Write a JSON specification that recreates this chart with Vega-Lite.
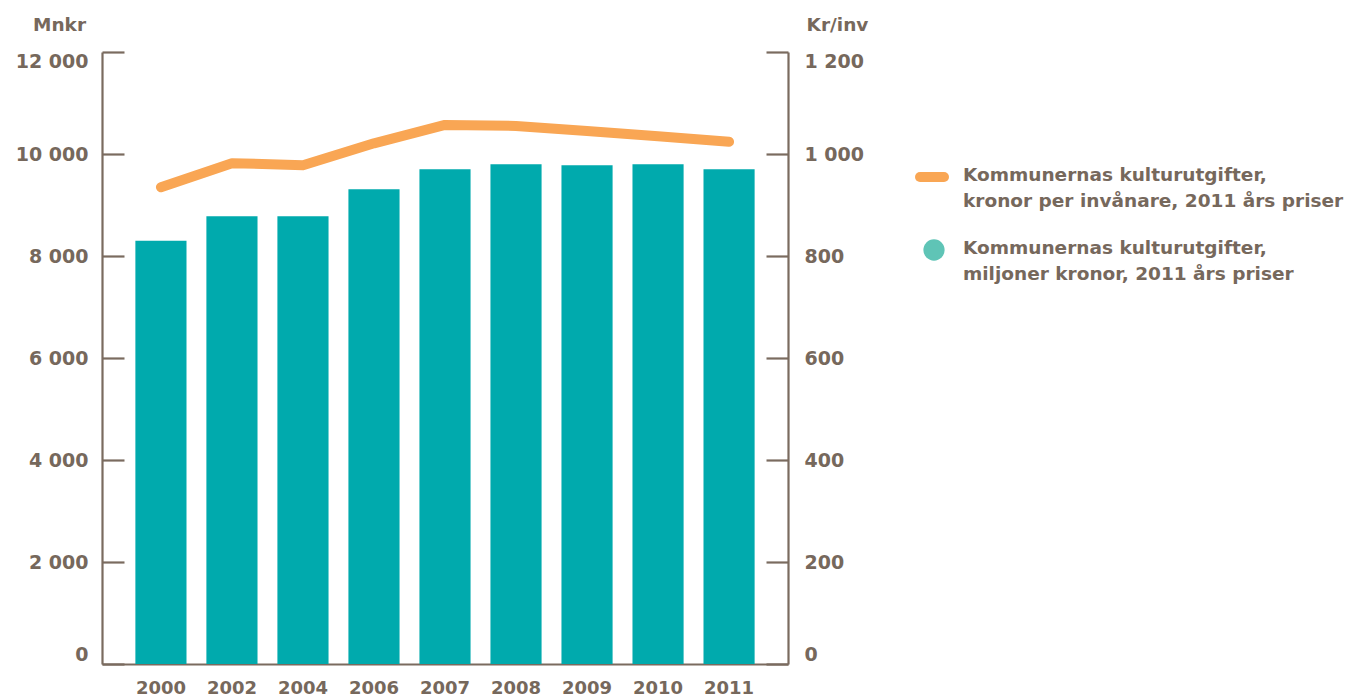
{
  "$schema": "https://vega.github.io/schema/vega-lite/v6.json",
  "width": 686,
  "height": 612,
  "autosize": "none",
  "padding": {"left": 102, "top": 52, "right": 560, "bottom": 34},
  "background": "white",
  "config": {
    "view": {"stroke": null},
    "font": "DejaVu Sans",
    "axis": {
      "labelFont": "DejaVu Sans",
      "labelFontWeight": "bold",
      "labelFontSize": 18,
      "labelColor": "#76685c",
      "titleFont": "DejaVu Sans",
      "titleFontWeight": "bold",
      "titleFontSize": 18.5,
      "titleColor": "#76685c",
      "domainColor": "#7a6b5f",
      "domainWidth": 2.2,
      "tickColor": "#7a6b5f",
      "tickWidth": 2.2,
      "grid": false
    },
    "legend": {
      "labelFont": "DejaVu Sans",
      "labelFontWeight": "bold",
      "labelFontSize": 18.5,
      "labelColor": "#76685c",
      "labelLimit": 1000
    }
  },
  "data": {
    "values": [
      {"year": "2000", "mnkr": 8300, "krinv": 935},
      {"year": "2002", "mnkr": 8780, "krinv": 982},
      {"year": "2004", "mnkr": 8780, "krinv": 978},
      {"year": "2006", "mnkr": 9310, "krinv": 1021},
      {"year": "2007", "mnkr": 9700, "krinv": 1057},
      {"year": "2008", "mnkr": 9800, "krinv": 1055},
      {"year": "2009", "mnkr": 9780, "krinv": 1045},
      {"year": "2010", "mnkr": 9800, "krinv": 1035},
      {"year": "2011", "mnkr": 9700, "krinv": 1024}
    ]
  },
  "encoding": {
    "x": {
      "field": "year",
      "type": "ordinal",
      "scale": {"paddingInner": 0.28, "paddingOuter": 0.47},
      "axis": {"title": null, "ticks": false, "labelAngle": 0, "labelPadding": 15}
    }
  },
  "layer": [
    {
      "mark": {"type": "bar", "color": "#00aaad"},
      "encoding": {
        "y": {
          "field": "mnkr",
          "type": "quantitative",
          "scale": {"domain": [0, 12000]},
          "axis": {
            "orient": "left",
            "values": [0, 2000, 4000, 6000, 8000, 10000, 12000],
            "tickSize": -22,
            "labelPadding": 36,
            "labelFlush": true,
            "labelFontSize": 19,
            "labelExpr": "replace(format(datum.value, ','), ',', ' ')",
            "title": "Mnkr",
            "titleAngle": 0,
            "titleX": -43,
            "titleY": -28,
            "titleAlign": "center",
            "titleBaseline": "middle"
          }
        }
      }
    },
    {
      "mark": {"type": "point", "filled": true, "opacity": 0, "size": 1},
      "encoding": {
        "fill": {
          "datum": "Kommunernas kulturutgifter, miljoner kronor, 2011 års priser",
          "type": "nominal",
          "scale": {"range": ["#5fc4b6"]},
          "legend": {
            "orient": "none",
            "legendX": 821,
            "legendY": 187,
            "title": null,
            "padding": 0,
            "symbolType": "circle",
            "symbolSize": 452,
            "symbolStrokeWidth": 0,
            "symbolOpacity": 1,
            "labelOffset": 18,
            "labelBaseline": "top",
            "labelExpr": "[slice(datum.label, 0, 27), slice(datum.label, 28)]",
            "encode": {
              "symbols": {"update": {"opacity": {"value": 1}}},
              "labels": {"update": {"lineHeight": {"value": 26}, "dy": {"value": -11}}}
            }
          }
        }
      }
    },
    {
      "mark": {"type": "line", "strokeWidth": 10, "strokeCap": "round", "strokeJoin": "round"},
      "encoding": {
        "y": {
          "field": "krinv",
          "type": "quantitative",
          "scale": {"domain": [0, 1200]},
          "axis": {
            "orient": "right",
            "values": [0, 200, 400, 600, 800, 1000, 1200],
            "tickSize": -22,
            "labelPadding": 38,
            "labelFlush": true,
            "labelFontSize": 19,
            "labelExpr": "replace(format(datum.value, ','), ',', ' ')",
            "title": "Kr/inv",
            "titleAngle": 0,
            "titleX": 49,
            "titleY": -28,
            "titleAlign": "center",
            "titleBaseline": "middle"
          }
        },
        "stroke": {
          "datum": "Kommunernas kulturutgifter, kronor per invånare, 2011 års priser",
          "type": "nominal",
          "scale": {"range": ["#f9a654"]},
          "legend": {
            "orient": "none",
            "legendX": 813,
            "legendY": 108,
            "title": null,
            "padding": 0,
            "symbolType": "stroke",
            "symbolSize": 576,
            "symbolStrokeWidth": 10,
            "labelOffset": 14,
            "labelBaseline": "top",
            "labelExpr": "[slice(datum.label, 0, 27), slice(datum.label, 28)]",
            "encode": {"symbols": {"update": {"strokeCap": {"value": "round"}}}, "labels": {"update": {"lineHeight": {"value": 26}, "dy": {"value": -11}}}}
          }
        }
      }
    }
  ],
  "resolve": {"scale": {"y": "independent"}}
}
